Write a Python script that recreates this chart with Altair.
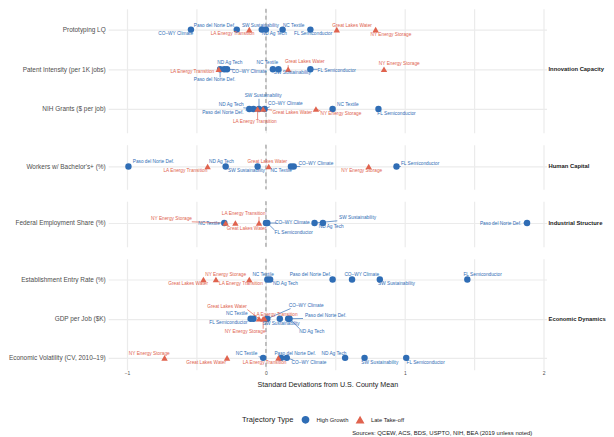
import json
import math
import altair as alt
import pandas as pd

BLUE = "#2f6db5"
ORANGE = "#e0634e"
FONT = "Liberation Sans"

# ---------------- data ----------------
regions = ["Paso del Norte Def.", "CO–WY Climate", "SW Sustainability", "NC Textile",
           "ND Ag Tech", "FL Semiconductor", "LA Energy Transition", "Great Lakes Water",
           "NY Energy Storage"]
trajectory = ["High Growth"] * 6 + ["Late Take-off"] * 3
traj_types = ["High Growth", "Late Take-off"]

groups = ["Innovation Capacity", "Human Capital", "Industrial Structure", "Economic Dynamics"]
metrics = ["Prototyping LQ", "Patent Intensity (per 1K jobs)", "NIH Grants ($ per job)",
           "Workers w/ Bachelor's+ (%)", "Federal Employment Share (%)",
           "Establishment Entry Rate (%)", "GDP per Job ($K)", "Economic Volatility (CV, 2010–19)"]
metric_group = ["Innovation Capacity"] * 3 + ["Human Capital", "Industrial Structure"] + ["Economic Dynamics"] * 3

# standardized values (SD from U.S. county mean), region order as in `regions`
prototyping_lq     = [-0.21, -0.54, -0.03, 0.12, 0.00, 0.32, -0.12, 0.51, 0.79]
patent_intensity   = [-0.33, -0.28, 0.09, 0.05, -0.30, 0.32, -0.34, 0.16, 0.85]
nih_grants         = [-0.12, -0.01, -0.05, 0.48, -0.09, 0.81, -0.06, -0.02, 0.36]
bachelors_share    = [-0.99, 0.20, -0.06, 0.18, -0.29, 0.94, -0.42, 0.02, 0.74]
federal_share      = [1.88, 0.00, 0.35, -0.30, 0.41, 0.01, -0.05, -0.22, -0.29]
entry_rate         = [0.48, 0.62, 0.82, 0.01, 0.03, 1.45, -0.12, -0.45, -0.36]
gdp_per_job        = [0.16, 0.01, 0.10, -0.11, 0.17, -0.09, -0.01, -0.05, -0.02]
volatility         = [0.11, 0.15, 0.71, -0.02, 0.57, 1.01, 0.09, -0.28, -0.73]

# repelled label positions: x in SD units, vertical offset in px from the row
prototyping_lq_lx   = [-0.37, -0.65, -0.04, 0.20, 0.06, 0.34, -0.24, 0.62, 0.90]
prototyping_lq_dy   = [-4, 4, -4, -4, 4, 4, 4, -4, 5]
patent_intensity_lx = [-0.37, -0.12, 0.19, 0.01, -0.26, 0.51, -0.53, 0.28, 0.96]
patent_intensity_dy = [11, 3, 4, -6, -6, 2, 3, -7, -5]
nih_grants_lx       = [-0.31, 0.14, -0.02, 0.59, -0.25, 0.94, -0.08, 0.19, 0.54]
nih_grants_dy       = [4, -5, -13, -4, -4, 5, 13, 4, 5]
bachelors_share_lx  = [-0.81, 0.36, -0.14, 0.11, -0.32, 1.11, -0.58, 0.01, 0.69]
bachelors_share_dy  = [-4, -2, 5, 5, -4, -2, 5, -4, 5]
federal_share_lx    = [1.69, 0.19, 0.66, -0.41, 0.47, 0.20, -0.16, -0.14, -0.68]
federal_share_dy    = [1, 0, -5, 1, 4, 10, -9, 6, -4]
entry_rate_lx       = [0.32, 0.69, 0.94, -0.02, 0.14, 1.56, -0.18, -0.56, -0.29]
entry_rate_dy       = [-5, -5, 5, -5, 5, -5, 5, 5, -5]
gdp_per_job_lx      = [0.43, 0.29, 0.11, -0.21, 0.33, -0.27, 0.07, -0.28, -0.15]
gdp_per_job_dy      = [-3, -13, 5, -5, 13, 4, -4, -12, 13]
volatility_lx       = [0.21, 0.31, 0.82, -0.14, 0.49, 1.15, -0.01, -0.43, -0.84]
volatility_dy       = [-4, 5, 5, -4, -4, 5, 5, 5, -4]

values_by_metric = [prototyping_lq, patent_intensity, nih_grants, bachelors_share,
                    federal_share, entry_rate, gdp_per_job, volatility]
lx_by_metric = [prototyping_lq_lx, patent_intensity_lx, nih_grants_lx, bachelors_share_lx,
                federal_share_lx, entry_rate_lx, gdp_per_job_lx, volatility_lx]
dy_by_metric = [prototyping_lq_dy, patent_intensity_dy, nih_grants_dy, bachelors_share_dy,
                federal_share_dy, entry_rate_dy, gdp_per_job_dy, volatility_dy]

x_grid = [-1, -0.5, 0, 0.5, 1, 1.5, 2]

# ---------------- layout ----------------
X_DOMAIN = [-1.136, 2.02]
PLOT_W = 442
PX_PER_SD = PLOT_W / (X_DOMAIN[1] - X_DOMAIN[0])
# group -> (panel height, first row offset px, px per row)
panel_layout = {
    "Innovation Capacity": (125, 21, 40),
    "Human Capital": (45, 22, 40),
    "Industrial Structure": (46, 22, 40),
    "Economic Dynamics": (112, 21, 39.5),
}

color_scale = alt.Scale(domain=traj_types, range=[BLUE, ORANGE])
shape_scale = alt.Scale(domain=traj_types, range=["circle", "triangle-up"])
x_scale = alt.Scale(domain=X_DOMAIN, nice=False, zero=False)
LEG_TITLE = "Trajectory Type"


def seg_for(v, lx, dy, label, row_px):
    px, py = v * PX_PER_SD, 0.0
    cx, cy = lx * PX_PER_SD, float(dy)
    hw = len(label) * 2.35 / 2 + 0.5
    hh = 2.8
    nx = min(max(px, cx - hw), cx + hw)
    ny = min(max(py, cy - hh), cy + hh)
    if math.hypot(nx - px, ny - py) < 3.5:
        return None
    return nx / PX_PER_SD, ny / row_px


def panel(group, last):
    height, first_px, row_px = panel_layout[group]
    idx = [i for i, g in enumerate(metric_group) if g == group]
    names = [metrics[i] for i in idx]
    pts, segs = [], []
    for r, i in enumerate(idx):
        for reg, tr, v, lx, dy in zip(regions, trajectory, values_by_metric[i],
                                      lx_by_metric[i], dy_by_metric[i]):
            pts.append({"region": reg, "traj": tr, "value": v, "row": r,
                        "lx": lx, "ly": r + dy / row_px})
            s = seg_for(v, lx, dy, reg, row_px)
            if s is not None:
                segs.append({"traj": tr, "x": v, "y": r, "x2": s[0], "y2": r + s[1]})
    pdf = pd.DataFrame(pts)
    sdf = pd.DataFrame(segs)
    top = -first_px / row_px
    y_scale = alt.Scale(domain=[top, top + height / row_px], reverse=True, nice=False, zero=False)
    label_expr = json.dumps(names) + "[datum.value]"
    y_axis = alt.Axis(values=list(range(len(names))), labelExpr=label_expr, title=None,
                      ticks=False, domain=False, grid=True, gridColor="#ebebeb", gridWidth=1.2,
                      labelFontSize=6.5, labelColor="#4d4d4d", labelFont=FONT, labelPadding=3,
                      minExtent=98, maxExtent=98)
    if last:
        x_axis = alt.Axis(values=x_grid, title="Standard Deviations from U.S. County Mean",
                          labelExpr="datum.value % 1 == 0 ? replace(format(datum.value, 'd'), '-', '−') : ''",
                          ticks=False, domain=False, grid=True, gridColor="#ebebeb", gridWidth=1.2,
                          labelFontSize=5, labelColor="#4d4d4d", labelPadding=1, labelFont=FONT,
                          titleFontSize=7.2, titleFontWeight="normal", titleColor="#1a1a1a",
                          titlePadding=5, titleFont=FONT)
    else:
        x_axis = alt.Axis(values=x_grid, labels=False, ticks=False, domain=False, title=None,
                          grid=True, gridColor="#ebebeb", gridWidth=1.2,
                          minExtent=0, maxExtent=0, labelPadding=0, offset=0)

    X = lambda f: alt.X(f, type="quantitative", scale=x_scale, axis=x_axis)
    Y = lambda f: alt.Y(f, type="quantitative", scale=y_scale, axis=y_axis)
    C = alt.Color("traj:N", scale=color_scale, title=LEG_TITLE)

    zero = alt.Chart(pd.DataFrame({"z": [0.0], "row": [0]})).mark_rule(
        color="#808080", strokeDash=[4, 3], strokeWidth=0.9).encode(x=X("z"))
    seg = alt.Chart(sdf).mark_rule(strokeWidth=0.7).encode(
        x=X("x"), y=Y("y"), x2="x2", y2="y2", color=C)
    points = alt.Chart(pdf).mark_point(filled=True, opacity=1, size=42).encode(
        x=X("value"), y=Y("row"), color=C,
        shape=alt.Shape("traj:N", scale=shape_scale, title=LEG_TITLE))
    labels = alt.Chart(pdf).mark_text(fontSize=4.8, font=FONT, baseline="middle").encode(
        x=X("lx"), y=Y("ly"), text="region:N", color=C)
    glabel = alt.Chart(pd.DataFrame({"g": [group], "row": [(len(names) - 1) / 2]})).mark_text(
        fontSize=5.9, font=FONT, fontWeight="bold", align="left", baseline="middle",
        color="#1a1a1a").encode(x=alt.value(PLOT_W + 2), y=Y("row"), text="g:N")
    return alt.layer(zero, seg, points, labels, glabel).properties(width=PLOT_W, height=height)


chart = alt.vconcat(*[panel(g, g == groups[-1]) for g in groups], spacing=10).resolve_scale(
    x="independent", y="independent", color="shared", shape="shared"
).properties(
    padding={"left": 0, "top": -2, "right": 0, "bottom": 0},
    title=alt.TitleParams("Sources: QCEW, ACS, BDS, USPTO, NIH, BEA (2019 unless noted)",
                          orient="bottom", anchor="end", fontSize=6, font=FONT,
                          fontWeight="normal", color="#1a1a1a", offset=4, dx=-74)
).configure_view(stroke=None).configure_concat(spacing=10).configure_legend(
    orient="none", legendX=135, legendY=410, direction="horizontal", titleOrient="left",
    titleFontSize=7.6, titleFontWeight="normal", titleColor="#1a1a1a", titleFont=FONT,
    labelFontSize=5.8, labelFont=FONT, labelColor="#1a1a1a", symbolSize=40,
    labelOffset=7, columnPadding=4, titlePadding=7
)

chart.save("out.html", embed_options={"renderer": "svg", "actions": False})
